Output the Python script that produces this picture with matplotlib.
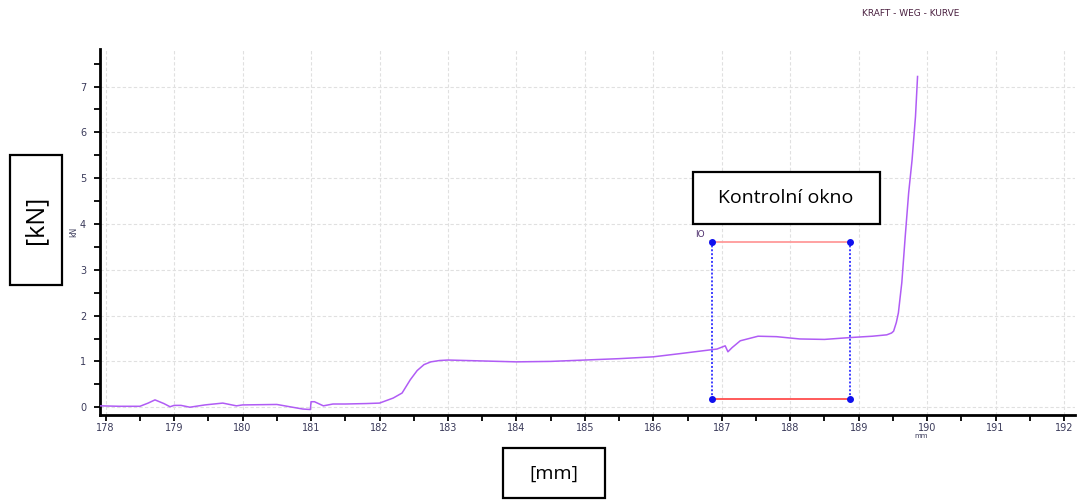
import matplotlib
matplotlib.use("Agg")
import matplotlib.pyplot as plt
from matplotlib.patches import Rectangle
from matplotlib.ticker import MultipleLocator

# ---- data ----
path_mm = [177.92, 178.2, 178.5, 178.62, 178.72, 178.85, 178.94, 179.0, 179.1, 179.23,
           179.45, 179.71, 179.91, 180.0, 180.5, 180.88, 180.99, 181.0, 181.05,
           181.18, 181.32, 181.5, 181.81, 182.0, 182.2, 182.33, 182.45, 182.55,
           182.65, 182.75, 182.88, 183.0, 183.5, 184.0, 184.5, 185.0, 185.5, 186.0,
           186.39, 186.93, 187.05, 187.09, 187.15, 187.27, 187.53, 187.8, 188.14,
           188.5, 188.87, 189.2, 189.41, 189.48, 189.51, 189.55, 189.58, 189.63,
           189.68, 189.73, 189.78, 189.83, 189.86]
force_kN = [0.03, 0.02, 0.02, 0.09, 0.16, 0.08, 0.01, 0.04, 0.04, 0.0,
            0.05, 0.09, 0.03, 0.05, 0.06, -0.04, -0.05, 0.12, 0.12,
            0.03, 0.07, 0.07, 0.08, 0.09, 0.2, 0.31, 0.6, 0.8,
            0.93, 0.99, 1.02, 1.03, 1.01, 0.99, 1.0, 1.03, 1.06, 1.1,
            1.17, 1.27, 1.34, 1.21, 1.3, 1.45, 1.55, 1.54, 1.49,
            1.48, 1.52, 1.55, 1.58, 1.62, 1.66, 1.85, 2.06, 2.72,
            3.73, 4.68, 5.4, 6.35, 7.22]

window_x = [186.86, 188.88]
window_y = [0.19, 3.6]
window_label = "IO"

x_ticks = list(range(178, 193))
y_ticks = list(range(0, 8))

title = "KRAFT - WEG - KURVE"
x_unit = "mm"
y_unit = "kN"

W, H = 1079, 500
fig = plt.figure(figsize=(W / 100, H / 100), dpi=100)
ax = fig.add_axes([100 / W, 85 / H, 975 / W, 366 / H])

ax.set_xlim(177.917, 192.16)
ax.set_ylim(-0.17, 7.82)

ax.grid(True, which="major", color="#e0e0e0", linestyle=(0, (3, 2)), linewidth=0.8)
ax.set_axisbelow(True)

ax.plot(path_mm, force_kN, color="#b05cf5", linewidth=1.1, zorder=3)

# control window
x0, x1 = window_x
y0, y1 = window_y
ax.plot([x0, x1], [y1, y1], color="#ff9a9a", linewidth=1.3, zorder=4)
ax.plot([x0, x1], [y0, y0], color="#ff4d4d", linewidth=1.3, zorder=4)
ax.plot([x0, x0], [y0, y1], color="#3d3dff", linewidth=1.4, linestyle=(0, (1, 1)), zorder=4)
ax.plot([x1, x1], [y0, y1], color="#3d3dff", linewidth=1.4, linestyle=(0, (1, 1)), zorder=4)
ax.scatter([x0, x1, x0, x1], [y0, y0, y1, y1], s=16, color="#1010ee", zorder=5)
ax.annotate(window_label, xy=(x0, y1), xytext=(x0 - 0.25, y1 + 0.18),
            fontsize=6.5, color="#4a2a6a", ha="left", va="center",
            arrowprops=dict(arrowstyle="-", color="#666666", lw=0.6, shrinkA=2, shrinkB=1))

for s in ["top", "right"]:
    ax.spines[s].set_visible(False)
for s in ["left", "bottom"]:
    ax.spines[s].set_linewidth(2)
    ax.spines[s].set_color("black")

ax.set_xticks(x_ticks)
ax.set_yticks(y_ticks)
ax.xaxis.set_minor_locator(MultipleLocator(0.5))
ax.yaxis.set_minor_locator(MultipleLocator(0.5))
ax.tick_params(which="both", direction="out", length=4, width=1.3, color="black")
ax.tick_params(axis="x", labelsize=7, labelcolor="#3a3a5a", pad=2)
ax.tick_params(axis="y", labelsize=7, labelcolor="#3a3a5a", pad=6)

fig.text(921 / W, 1 - 436 / H, x_unit, fontsize=5, color="#3a3a5a", ha="center", va="center")
fig.text(74 / W, 1 - 232 / H, y_unit, fontsize=5.5, color="#3a3a5a", ha="center", va="center", rotation=90)

fig.text(911 / W, 1 - 14 / H, title, fontsize=6.5, color="#4a2040", ha="center", va="center")

# annotation boxes
def box(x, y, w, h):
    fig.patches.append(Rectangle((x / W, 1 - (y + h) / H), w / W, h / H,
                                 transform=fig.transFigure, fill=True, facecolor="white",
                                 edgecolor="black", linewidth=1.6, zorder=10))

box(10, 155, 52, 130)
fig.text(36 / W, 1 - 220 / H, "[kN]", fontsize=18, rotation=90, ha="center", va="center",
         family=["Open Sans", "DejaVu Sans"], zorder=11)
box(503, 448, 102, 50)
fig.text(554 / W, 1 - 474 / H, "[mm]", fontsize=14, ha="center", va="center",
         family=["Open Sans", "DejaVu Sans"], zorder=11)
box(693, 172, 187, 52)
fig.text(786 / W, 1 - 198 / H, "Kontrolní okno", fontsize=14, ha="center", va="center",
         family=["Open Sans", "DejaVu Sans"], zorder=11)

fig.savefig("out.png", dpi=100, facecolor="white")
